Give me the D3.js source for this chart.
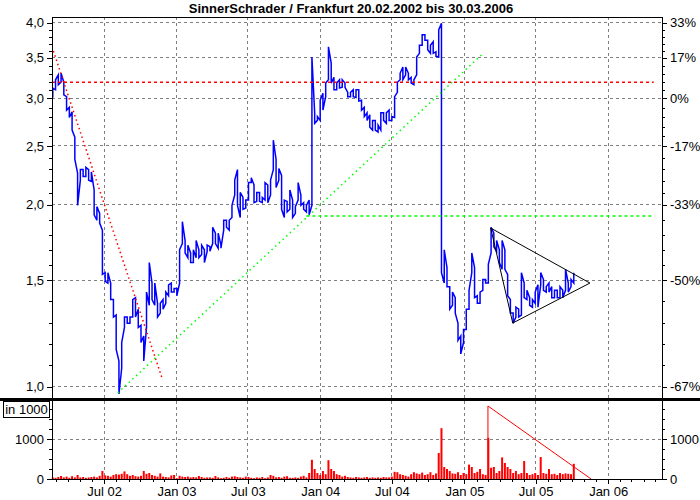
<!DOCTYPE html>
<html lang="de">
<head>
<meta charset="UTF-8">
<title>SinnerSchrader / Frankfurt</title>
<script src="https://d3js.org/d3.v7.min.js"></script>
<style>
body { margin: 0; background: #fff; }
svg { display: block; font-family: Arial, "Liberation Sans", sans-serif; }
.axis text { font-size: 13px; fill: #000; }
.axis line { stroke: #000; shape-rendering: crispEdges; }
.grid line { stroke: #808080; stroke-dasharray: 3,3; shape-rendering: crispEdges; }
</style>
</head>
<body>
<div id="chart"></div>
<script>
const titleText = "SinnerSchrader / Frankfurt 20.02.2002 bis 30.03.2006";

// Kursachse (links) und Prozentachse (rechts, bezogen auf 3,0)
const priceTicks = [1.0, 1.5, 2.0, 2.5, 3.0, 3.5, 4.0];
const priceTickLabels = ["1,0", "1,5", "2,0", "2,5", "3,0", "3,5", "4,0"];
const pctTickLabels = ["-67%", "-50%", "-33%", "-17%", "0%", "17%", "33%"];

// Umsatz in 1000 Stück
const volTicks = [0, 1000];
const volTickLabels = ["0", "1000"];
const volMinorTicks = [250, 500, 750, 1250, 1500, 1750];

const dateTicks = ["2002-07-01", "2003-01-01", "2003-07-01", "2004-01-01",
                   "2004-07-01", "2005-01-01", "2005-07-01", "2006-01-01"];
const dateTickLabels = ["Jul 02", "Jan 03", "Jul 03", "Jan 04", "Jul 04", "Jan 05", "Jul 05", "Jan 06"];

// Wochenwerte (Freitage ab 22.02.2002): Hoch, Tief, Umsatz
const firstWeek = "2002-02-22";
const lastWeek = "2005-10-07";

const weekHigh = [
  3.11, 3.21, 3.27, 3.29, 3.18, 3.01, 2.89, 2.84, 2.58, 2.25,
  2.28, 2.28, 2.30, 2.28, 2.26, 2.11, 1.98, 1.93, 1.81, 1.54,
  1.54, 1.48, 1.39, 1.31, 1.10, 1.18, 1.30, 1.30, 1.30, 1.39,
  1.40, 1.34, 1.26, 1.21, 1.43, 1.60, 1.48, 1.48, 1.37, 1.37,
  1.39, 1.43, 1.47, 1.48, 1.45, 1.45, 1.68, 1.87, 1.74, 1.71,
  1.66, 1.68, 1.74, 1.68, 1.71, 1.68, 1.71, 1.70, 1.83, 1.79,
  1.79, 1.71, 1.88, 1.88, 1.88, 1.99, 2.19, 2.28, 2.09, 2.05,
  2.03, 2.17, 2.21, 2.15, 2.09, 2.09, 2.05, 2.17, 2.15, 2.19,
  2.55, 2.37, 2.29, 2.23, 2.03, 2.02, 2.11, 2.03, 1.98, 2.17,
  2.07, 2.01, 1.99, 2.03, 3.50, 2.83, 2.79, 2.97, 3.05, 3.17,
  3.64, 3.42, 3.24, 3.17, 3.21, 3.21, 3.17, 3.06, 3.06, 3.09,
  3.09, 3.09, 2.97, 2.89, 2.83, 2.81, 2.75, 2.75, 2.70, 2.83,
  2.83, 2.83, 2.86, 2.79, 3.01, 3.18, 3.29, 3.37, 3.37, 3.29,
  3.24, 3.21, 3.50, 3.66, 3.81, 3.81, 3.73, 3.66, 3.71, 3.57,
  3.88, 3.98, 1.68, 1.57, 1.46, 1.43, 1.40, 1.27, 1.21, 1.24,
  1.34, 1.44, 1.66, 1.57, 1.41, 1.43, 1.50, 1.50, 1.59, 1.83,
  1.79, 1.74, 1.68, 1.74, 1.68, 1.53, 1.39, 1.32, 1.35, 1.34,
  1.54, 1.48, 1.44, 1.40, 1.39, 1.43, 1.47, 1.54, 1.50, 1.46,
  1.48, 1.46, 1.44, 1.44, 1.46, 1.44, 1.56, 1.48, 1.50, 1.54
];
const weekLow = [
  3.00, 3.09, 3.15, 3.18, 3.03, 2.86, 2.78, 2.65, 2.37, 1.99,
  2.19, 2.22, 2.22, 2.19, 2.18, 1.92, 1.88, 1.86, 1.53, 1.49,
  1.48, 1.39, 1.30, 1.15, 0.97, 1.07, 1.25, 1.27, 1.27, 1.30,
  1.30, 1.25, 1.18, 1.10, 1.25, 1.36, 1.39, 1.36, 1.30, 1.32,
  1.34, 1.37, 1.41, 1.43, 1.43, 1.41, 1.48, 1.72, 1.66, 1.63,
  1.60, 1.60, 1.63, 1.63, 1.65, 1.60, 1.67, 1.67, 1.72, 1.72,
  1.69, 1.69, 1.81, 1.83, 1.81, 1.90, 2.07, 1.99, 1.90, 1.96,
  1.97, 2.03, 2.17, 2.01, 2.02, 2.02, 2.01, 2.03, 2.01, 2.07,
  2.28, 2.13, 2.19, 1.96, 1.90, 1.94, 1.96, 1.90, 1.93, 2.03,
  1.99, 1.96, 1.94, 1.92, 1.99, 2.72, 2.75, 2.75, 2.86, 3.01,
  3.21, 3.17, 3.09, 3.09, 3.11, 3.12, 3.12, 3.01, 3.01, 3.01,
  3.00, 2.96, 2.86, 2.79, 2.75, 2.68, 2.65, 2.65, 2.63, 2.65,
  2.75, 2.72, 2.75, 2.75, 2.78, 3.06, 3.21, 3.21, 3.27, 3.21,
  3.17, 3.15, 3.27, 3.55, 3.66, 3.73, 3.60, 3.55, 3.55, 3.51,
  3.50, 1.54, 1.48, 1.46, 1.34, 1.36, 1.32, 1.19, 1.13, 1.18,
  1.24, 1.34, 1.54, 1.40, 1.37, 1.37, 1.44, 1.48, 1.48, 1.66,
  1.70, 1.67, 1.60, 1.56, 1.56, 1.41, 1.32, 1.27, 1.30, 1.30,
  1.31, 1.40, 1.39, 1.36, 1.35, 1.37, 1.35, 1.47, 1.44, 1.43,
  1.43, 1.40, 1.40, 1.40, 1.40, 1.40, 1.44, 1.43, 1.46, 1.48
];
const weekVolume = [
  40, 30, 50, 75, 40, 60, 30, 70, 40, 100,
  40, 50, 30, 40, 50, 60, 40, 80, 200, 90,
  80, 60, 100, 120, 110, 130, 190, 120, 80, 100,
  70, 60, 80, 200, 130, 150, 100, 80, 60, 140,
  60, 50, 40, 90, 100, 20, 80, 60, 50, 60,
  40, 50, 40, 75, 50, 30, 40, 40, 30, 75,
  40, 20, 30, 50, 30, 60, 70, 50, 40, 30,
  60, 50, 30, 20, 40, 30, 50, 20, 40, 100,
  80, 40, 50, 30, 60, 70, 30, 30, 40, 30,
  60, 80, 40, 150, 480, 250, 150, 100, 200, 120,
  470, 250, 200, 120, 100, 60, 80, 50, 40, 30,
  50, 40, 30, 40, 50, 30, 40, 30, 40, 30,
  50, 40, 40, 60, 180, 170, 120, 100, 80, 60,
  120, 170, 140, 120, 160, 100, 120, 170, 100, 140,
  650, 1270, 300, 250, 200, 140, 130, 170, 100, 150,
  120, 360, 300, 150, 180, 250, 120, 100, 1030, 280,
  300, 150, 200, 540, 400, 300, 250, 150, 200, 120,
  150, 450, 150, 100, 120, 150, 100, 550, 150, 130,
  250, 120, 130, 100, 150, 120, 140, 130, 120, 380
];

// Zeichnungen im Chart
const resistanceLine = [["2002-02-20", 3.18], ["2006-04-28", 3.18]];
const supportLine = [["2003-11-28", 1.91], ["2006-04-28", 1.91]];
const downTrend = [["2002-02-20", 3.64], ["2002-11-28", 1.023]];
const upTrend = [["2002-08-06", 0.974], ["2005-02-19", 3.55]];
const triangle = [["2005-03-10", 1.825], ["2005-11-17", 1.48], ["2005-05-05", 1.271], ["2005-03-10", 1.825]];
const volumeTrend = [["2005-03-03", 0], ["2005-03-03", 1825], ["2005-11-20", 0]];

const width = 700, height = 500;
const plot = { left: 52, right: 662, top: 17, split: 399.5, bottom: 479 };

const parse = d3.timeParse("%Y-%m-%d");

const x = d3.scaleTime()
    .domain([parse("2002-02-20"), parse("2006-05-19")])
    .range([plot.left, plot.right]);
const y = d3.scaleLog().domain([1, 4]).range([386, 22]);
const yv = d3.scaleLinear().domain([0, 1000]).range([plot.bottom, 439]);

const svg = d3.select("#chart").append("svg")
    .attr("width", width)
    .attr("height", height);

svg.append("defs").append("clipPath").attr("id", "clipPrice")
    .append("rect")
    .attr("x", plot.left).attr("y", plot.top)
    .attr("width", plot.right - plot.left).attr("height", plot.split - plot.top);

// Titel
svg.append("text")
    .attr("x", 351).attr("y", 13)
    .attr("text-anchor", "middle")
    .attr("font-size", 13).attr("font-weight", "bold")
    .text(titleText);

// Gitter
const grid = svg.append("g").attr("class", "grid");
grid.selectAll(".vx").data(dateTicks).enter().append("line")
    .attr("x1", d => Math.round(x(parse(d))) + 0.5).attr("x2", d => Math.round(x(parse(d))) + 0.5)
    .attr("y1", plot.top).attr("y2", plot.bottom);
grid.selectAll(".hy").data(priceTicks).enter().append("line")
    .attr("x1", plot.left).attr("x2", plot.right)
    .attr("y1", d => Math.round(y(d)) + 0.5).attr("y2", d => Math.round(y(d)) + 0.5);
grid.append("line")
    .attr("x1", plot.left).attr("x2", plot.right)
    .attr("y1", Math.round(yv(1000)) + 0.5).attr("y2", Math.round(yv(1000)) + 0.5);

// Kurslinie: pro Woche vom näheren Extrem zum anderen
const weeks = d3.timeFriday.range(parse(firstWeek), d3.timeDay.offset(parse(lastWeek), 1));
const pts = [];
let prev = weekLow[0];
weeks.forEach((d, i) => {
    const hi = weekHigh[i], lo = weekLow[i];
    const pair = Math.abs(Math.log(hi / prev)) < Math.abs(Math.log(lo / prev)) ? [hi, lo] : [lo, hi];
    pts.push([d, pair[0]], [d, pair[1]]);
    prev = pair[1];
});

const priceLayer = svg.append("g").attr("clip-path", "url(#clipPrice)");
priceLayer.append("path")
    .datum(pts)
    .attr("fill", "none")
    .attr("stroke", "#0000ff")
    .attr("stroke-width", 1.5)
    .attr("d", d3.line().x(d => x(d[0])).y(d => y(d[1])));

const line = d3.line().x(d => x(parse(d[0]))).y(d => y(d[1]));

priceLayer.append("path").datum(resistanceLine)
    .attr("fill", "none").attr("stroke", "#ff0000").attr("stroke-width", 1.5)
    .attr("stroke-dasharray", "3,3").attr("d", line);
priceLayer.append("path").datum(supportLine)
    .attr("fill", "none").attr("stroke", "#00ff00").attr("stroke-width", 1.5)
    .attr("stroke-dasharray", "3,3").attr("d", line);
priceLayer.append("path").datum(downTrend)
    .attr("fill", "none").attr("stroke", "#ff0000").attr("stroke-width", 1.5)
    .attr("stroke-dasharray", "1.5,3").attr("d", line);
priceLayer.append("path").datum(upTrend)
    .attr("fill", "none").attr("stroke", "#00ff00").attr("stroke-width", 1.5)
    .attr("stroke-dasharray", "1.5,3.5").attr("d", line);
priceLayer.append("path").datum(triangle)
    .attr("fill", "none").attr("stroke", "#000").attr("stroke-width", 1)
    .attr("d", line);

// Umsatz
svg.append("g").selectAll("rect")
    .data(weeks)
    .enter().append("rect")
    .attr("x", d => x(d) - 1)
    .attr("width", 2)
    .attr("y", (d, i) => yv(weekVolume[i]))
    .attr("height", (d, i) => yv(0) - yv(weekVolume[i]))
    .attr("fill", "#ff0000");

svg.append("path").datum(volumeTrend)
    .attr("fill", "none").attr("stroke", "#ff0000").attr("stroke-width", 1)
    .attr("d", d3.line().x(d => x(parse(d[0]))).y(d => yv(d[1])));

// Achsen
const minorPrice = [];
for (let k = 0; k < priceTicks.length - 1; k++) {
    const a = y(priceTicks[k]), b = y(priceTicks[k + 1]);
    for (let j = 1; j <= 4; j++) minorPrice.push(y.invert(a + (b - a) * j / 5));
}

function styleAxis(g) {
    g.select(".domain").remove();
}

svg.append("g").attr("class", "axis")
    .attr("transform", `translate(${plot.left},0.5)`)
    .call(d3.axisLeft(y).tickValues(priceTicks).tickSize(5).tickPadding(3)
        .tickFormat((d, i) => priceTickLabels[i]))
    .call(styleAxis);
svg.append("g").attr("class", "axis")
    .attr("transform", `translate(${plot.left},0.5)`)
    .call(d3.axisLeft(y).tickValues(minorPrice).tickSize(3).tickFormat(""))
    .call(styleAxis);
svg.append("g").attr("class", "axis")
    .attr("transform", `translate(${plot.right},0.5)`)
    .call(d3.axisRight(y).tickValues(priceTicks).tickSize(5).tickPadding(3)
        .tickFormat((d, i) => pctTickLabels[i]))
    .call(styleAxis);
svg.append("g").attr("class", "axis")
    .attr("transform", `translate(${plot.right},0.5)`)
    .call(d3.axisRight(y).tickValues(minorPrice).tickSize(3).tickFormat(""))
    .call(styleAxis);

svg.append("g").attr("class", "axis")
    .attr("transform", `translate(${plot.left},0)`)
    .call(d3.axisLeft(yv).tickValues(volTicks).tickSize(5).tickPadding(3)
        .tickFormat((d, i) => volTickLabels[i]))
    .call(styleAxis);
svg.append("g").attr("class", "axis")
    .attr("transform", `translate(${plot.left},0)`)
    .call(d3.axisLeft(yv).tickValues(volMinorTicks).tickSize(3).tickFormat(""))
    .call(styleAxis);
svg.append("g").attr("class", "axis")
    .attr("transform", `translate(${plot.right},0)`)
    .call(d3.axisRight(yv).tickValues(volTicks).tickSize(5).tickPadding(3)
        .tickFormat((d, i) => volTickLabels[i]))
    .call(styleAxis);
svg.append("g").attr("class", "axis")
    .attr("transform", `translate(${plot.right},0)`)
    .call(d3.axisRight(yv).tickValues(volMinorTicks).tickSize(3).tickFormat(""))
    .call(styleAxis);

svg.append("g").attr("class", "axis")
    .attr("transform", `translate(0.5,${plot.bottom})`)
    .call(d3.axisBottom(x).tickValues(dateTicks.map(parse)).tickSize(5).tickPadding(3)
        .tickFormat((d, i) => dateTickLabels[i]))
    .call(styleAxis);
svg.append("g").attr("class", "axis")
    .attr("transform", `translate(0.5,${plot.bottom})`)
    .call(d3.axisBottom(x).ticks(d3.timeMonth.every(1)).tickSize(3).tickFormat(""))
    .call(styleAxis);

// Rahmen
const frame = svg.append("g").attr("stroke", "#000").attr("shape-rendering", "crispEdges");
frame.append("line").attr("x1", plot.left).attr("x2", plot.right + 1).attr("y1", plot.top + 0.5).attr("y2", plot.top + 0.5);
frame.append("line").attr("x1", plot.left + 0.5).attr("x2", plot.left + 0.5).attr("y1", plot.top).attr("y2", plot.bottom + 1);
frame.append("line").attr("x1", plot.right + 0.5).attr("x2", plot.right + 0.5).attr("y1", plot.top).attr("y2", plot.bottom + 1);
frame.append("line").attr("x1", plot.left).attr("x2", plot.right + 1).attr("y1", plot.bottom + 0.5).attr("y2", plot.bottom + 0.5);
frame.append("line").attr("x1", 0).attr("x2", width).attr("y1", plot.split).attr("y2", plot.split)
    .attr("stroke-width", 2.5);

// Einheit Umsatz
svg.append("rect")
    .attr("x", 3.5).attr("y", 401.5).attr("width", 46).attr("height", 16)
    .attr("fill", "#fff").attr("stroke", "#000");
svg.append("text")
    .attr("x", 26.5).attr("y", 414)
    .attr("text-anchor", "middle").attr("font-size", 13)
    .text("in 1000");
</script>
</body>
</html>
